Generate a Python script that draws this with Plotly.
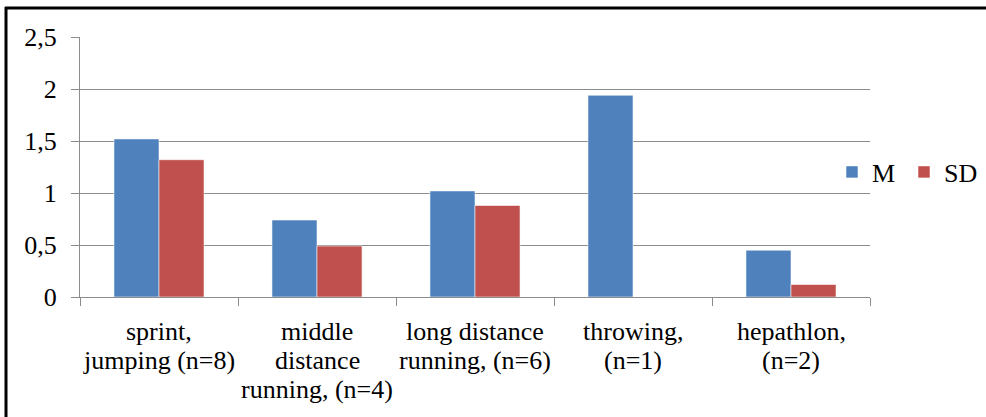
import plotly.graph_objects as go

categories = ["sprint, jumping (n=8)", "middle distance running, (n=4)",
              "long distance running, (n=6)", "throwing, (n=1)", "hepathlon, (n=2)"]
category_lines = [["sprint,", "jumping (n=8)"],
                  ["middle", "distance", "running, (n=4)"],
                  ["long distance", "running, (n=6)"],
                  ["throwing,", "(n=1)"],
                  ["hepathlon,", "(n=2)"]]
m_values = [1.52, 0.74, 1.02, 1.94, 0.45]
sd_values = [1.32, 0.49, 0.88, None, 0.12]
y_tick_vals = [0, 0.5, 1, 1.5, 2, 2.5]
y_tick_text = ["0", "0,5", "1", "1,5", "2", "2,5"]

FONT = "Liberation Serif, Times New Roman, serif"
GRID = "#8C8C8C"

fig = go.Figure()
fig.add_trace(go.Bar(name="M", x=categories, y=m_values, legend="legend",
                     marker=dict(color="#4F81BD", line=dict(color="rgba(255,255,255,0.55)", width=1))))
fig.add_trace(go.Bar(name="SD", x=categories, y=sd_values, legend="legend2",
                     marker=dict(color="#C0504D", line=dict(color="rgba(255,255,255,0.55)", width=1))))

L, R, T, B = 80, 116, 37, 120
W, H = 986, 417
pw, ph = W - L - R, H - T - B

annotations = []
shifts = [-34, -63, -92]
for cat, lines in zip(categories, category_lines):
    for i, line in enumerate(lines):
        annotations.append(dict(x=cat, y=0, xref="x", yref="y", text=line, showarrow=False,
                                yshift=shifts[i], xanchor="center", yanchor="middle",
                                font=dict(family=FONT, size=26, color="black")))

def px_x(p):
    return (p - L) / pw

def px_y(p):
    return (H - B - p) / ph

shapes = [
    dict(type="line", xref="paper", yref="paper", x0=px_x(5), x1=px_x(990), y0=px_y(8), y1=px_y(8),
         line=dict(color="black", width=3)),
    dict(type="line", xref="paper", yref="paper", x0=px_x(6), x1=px_x(6), y0=px_y(7), y1=px_y(420),
         line=dict(color="black", width=3)),
]

legend_common = dict(orientation="h", xanchor="left", yanchor="middle",
                     font=dict(family=FONT, size=26, color="black"),
                     itemwidth=30, bgcolor="rgba(0,0,0,0)")

fig.update_layout(
    width=W, height=H,
    margin=dict(l=L, r=R, t=T, b=B, autoexpand=False),
    paper_bgcolor="white", plot_bgcolor="white",
    font=dict(family=FONT, size=26, color="black"),
    barmode="group", bargap=0.43, bargroupgap=0,
    showlegend=True,
    legend=dict(x=px_x(832), y=px_y(172), **legend_common),
    legend2=dict(x=px_x(904), y=px_y(172), **legend_common),
    annotations=annotations,
    shapes=shapes,
)
fig.update_xaxes(showticklabels=False, showline=True, linecolor=GRID, linewidth=1,
                 ticks="outside", ticklen=8, tickcolor=GRID, tickson="boundaries",
                 showgrid=False, zeroline=False)
fig.update_yaxes(range=[0, 2.5], tickvals=y_tick_vals, ticktext=y_tick_text,
                 showline=True, linecolor=GRID, linewidth=1, ticks="outside", ticklen=8,
                 tickcolor=GRID, showgrid=True, gridcolor=GRID, gridwidth=1, zeroline=False,
                 ticklabelstandoff=9, tickfont=dict(family=FONT, size=26, color="black"))

fig.write_html("out.html")
